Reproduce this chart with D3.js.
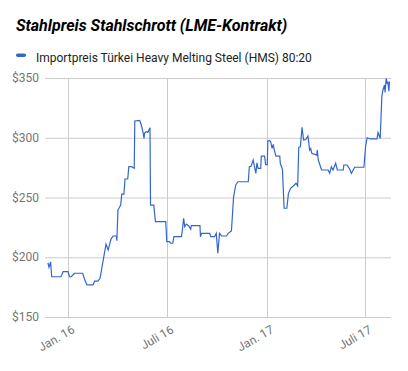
<!DOCTYPE html>
<html><head><meta charset="utf-8">
<script src="https://cdn.jsdelivr.net/npm/d3@7"></script>
<style>body{margin:0;background:#fff;font-family:Roboto,Arial,sans-serif}</style>
</head><body><svg id="c" width="408" height="371"></svg>
<script>
const title = "Stahlpreis Stahlschrott (LME-Kontrakt)";
const seriesName = "Importpreis Türkei Heavy Melting Steel (HMS) 80:20";
const dates = ["2015-11-25","2015-11-27","2015-11-30","2015-12-02","2015-12-19","2015-12-21","2015-12-23","2016-01-01","2016-01-04","2016-01-07","2016-01-13","2016-01-28","2016-02-01","2016-02-05","2016-02-16","2016-02-19","2016-02-25","2016-02-29","2016-03-07","2016-03-11","2016-03-15","2016-03-20","2016-03-24","2016-03-30","2016-03-31","2016-04-02","2016-04-07","2016-04-09","2016-04-13","2016-04-15","2016-04-20","2016-04-22","2016-04-27","2016-05-02","2016-05-03","2016-05-12","2016-05-15","2016-05-18","2016-05-20","2016-05-21","2016-05-24","2016-05-27","2016-05-31","2016-06-01","2016-06-07","2016-06-10","2016-06-29","2016-07-01","2016-07-06","2016-07-08","2016-07-12","2016-07-14","2016-07-28","2016-07-30","2016-08-01","2016-08-03","2016-08-06","2016-08-10","2016-08-14","2016-08-15","2016-08-31","2016-09-01","2016-09-03","2016-09-18","2016-09-20","2016-09-27","2016-09-30","2016-10-03","2016-10-06","2016-10-10","2016-10-19","2016-10-22","2016-10-28","2016-11-01","2016-11-05","2016-11-09","2016-11-28","2016-11-30","2016-12-03","2016-12-07","2016-12-12","2016-12-14","2016-12-16","2016-12-21","2016-12-22","2016-12-28","2016-12-30","2017-01-02","2017-01-03","2017-01-06","2017-01-08","2017-01-11","2017-01-13","2017-01-15","2017-01-18","2017-01-25","2017-01-26","2017-01-30","2017-01-31","2017-02-02","2017-02-07","2017-02-10","2017-02-14","2017-02-19","2017-02-24","2017-02-27","2017-03-01","2017-03-04","2017-03-07","2017-03-10","2017-03-14","2017-03-18","2017-03-21","2017-03-23","2017-03-25","2017-04-03","2017-04-04","2017-04-06","2017-04-09","2017-04-12","2017-04-24","2017-04-27","2017-04-30","2017-05-03","2017-05-08","2017-05-11","2017-05-22","2017-05-23","2017-05-29","2017-06-02","2017-06-06","2017-06-12","2017-06-29","2017-07-02","2017-07-05","2017-07-10","2017-07-23","2017-07-25","2017-07-29","2017-08-01","2017-08-03","2017-08-06","2017-08-07","2017-08-09","2017-08-11","2017-08-12","2017-08-14","2017-08-15"];
const prices = [195.4,191.6,196,183.7,183.7,185.7,187.9,187.9,183.7,183.7,186.6,186.6,181,176.8,176.8,180,180,182.4,200.5,211,206,215,217.8,217.8,213.9,239.5,243.7,252.9,252.9,265.5,265.5,275.8,275.8,274.5,314,314.6,310.7,305,299.5,304,305,304.5,308.4,243.7,243.7,229.8,229.8,213,213,211.7,211.7,217.2,217.2,224.2,232.6,225.6,227.8,226.4,223.4,226.4,226.4,217.2,220,220,217.2,217.2,220,203.3,220,217.8,217.8,220,222,250.7,260.5,263.2,263.2,275.8,276,281.4,270.2,279,274.4,274.4,284.7,284.7,277.5,277.5,297.3,297.6,297,291.2,294.5,289.7,284.7,284.7,278.6,273.6,261.9,241,241,253.5,257.7,259.6,261.9,259.6,292,292.5,308.7,298.1,298.5,301.5,289.7,291,287,285.5,289.7,281.4,277.2,273,273,270.2,275.8,273,278.6,273,273,277.2,277.2,274.4,270.2,275.3,275.3,292.5,300,299,299,304.3,299.4,334.4,340,344.1,338,349.7,345,347,339,347];
const yTicks = [150,200,250,300,350];
const yTickLabels = ["$150","$200","$250","$300","$350"];
const xTicks = ["2016-01-01","2016-07-01","2017-01-01","2017-07-01"];
const xTickLabels = ["Jan. 16","Juli 16","Jan. 17","Juli 17"];

const parse = d3.utcParse("%Y-%m-%d");
const data = dates.map((d,i)=>({date:parse(d), v:prices[i]}));
const svg = d3.select("#c");
const L=45, R=391, T=78, B=317;
const x = d3.scaleUtc().domain([parse(xTicks[0]), parse(xTicks[3])]).range([68,365]);
const y = d3.scaleLinear().domain([150,350]).range([B,T]);

svg.append("text").attr("x",16).attr("y",31).attr("font-size",16).attr("font-weight","bold")
  .attr("font-style","italic").attr("fill","#000").text(title);
svg.append("rect").attr("x",16).attr("y",53.5).attr("width",10).attr("height",3.5).attr("rx",1.75).attr("fill","#3366cc");
svg.append("text").attr("x",36).attr("y",62).attr("font-size",12).attr("fill","#222").text(seriesName);

const g = svg.append("g");
yTicks.forEach((t,i)=>{
  g.append("line").attr("x1",L).attr("x2",R).attr("y1",y(t)+0.5).attr("y2",y(t)+0.5).attr("stroke","#cccccc");
  g.append("text").attr("x",39).attr("y",y(t)).attr("dy","0.35em").attr("text-anchor","end")
    .attr("font-size",12).attr("fill","#757575").text(yTickLabels[i]);
});
xTicks.forEach((t,i)=>{
  const xx = Math.round(x(parse(t)))+0.5;
  g.append("line").attr("x1",xx).attr("x2",xx).attr("y1",T).attr("y2",B).attr("stroke","#cccccc");
  g.append("text").attr("transform",`translate(${xx+7},${B+15}) rotate(-30)`).attr("text-anchor","end")
    .attr("font-size",12).attr("fill","#757575").text(xTickLabels[i]);
});
const line = d3.line().x(d=>x(d.date)).y(d=>y(d.v));
svg.append("path").datum(data).attr("d",line).attr("fill","none").attr("stroke","#3366cc").attr("stroke-width",1.2);
</script></body></html>
